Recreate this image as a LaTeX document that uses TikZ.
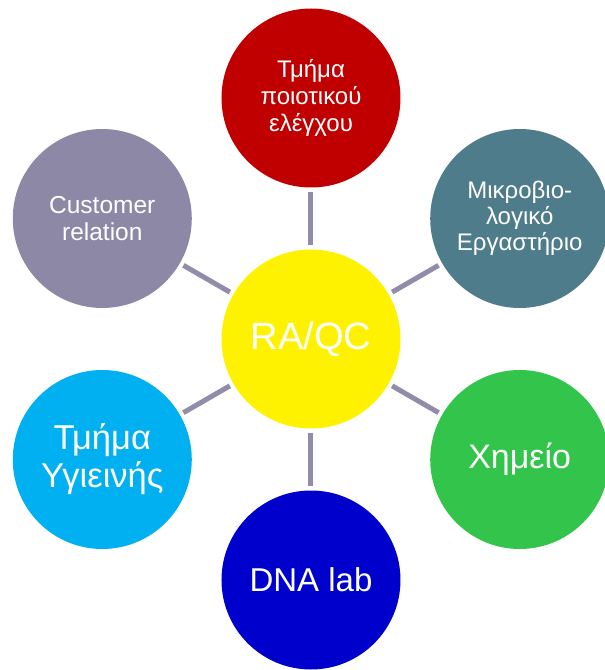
\documentclass[tikz,border=0pt]{standalone}
\usepackage{fontspec}
\setmainfont{Liberation Sans}
\usepackage{xcolor}
\usepackage{tikz}

\definecolor{qcred}{HTML}{C00000}
\definecolor{microteal}{HTML}{4E7C8B}
\definecolor{chemgreen}{HTML}{33C54B}
\definecolor{dnablue}{HTML}{0000CC}
\definecolor{hygcyan}{HTML}{00B0F0}
\definecolor{custgray}{HTML}{8C88A6}
\definecolor{spokegray}{HTML}{908CAA}

\begin{document}
\begin{tikzpicture}[x=1pt,y=1pt,
    unit/.style={circle, minimum size=179pt, inner sep=0pt, text=white, align=center, fill=#1},
    spoke/.style={line width=5pt, draw=spokegray, shorten <=4pt, shorten >=4pt}]
    \useasboundingbox (-311,-331) rectangle (294,339);

    \node[unit=yellow, font=\fontsize{38}{44}\selectfont] (hub) at (0,0) {RA/QC};
    \node[unit=qcred, font=\fontsize{24}{27}\selectfont] (qc) at (90:241) {Τμήμα\\ποιοτικού\\ελέγχου};
    \node[unit=microteal, font=\fontsize{24}{26}\selectfont] (micro) at (30:241) {Μικροβιο-\\λογικό\\Εργαστήριο};
    \node[unit=chemgreen, font=\fontsize{34}{40}\selectfont] (chem) at (-30:241) {Χημείο};
    \node[unit=dnablue, font=\fontsize{33}{40}\selectfont] (dna) at (-90:241) {DNA lab};
    \node[unit=hygcyan, font=\fontsize{34.5}{38}\selectfont] (hyg) at (210:241) {Τμήμα\\Υγιεινής};
    \node[unit=custgray, font=\fontsize{24.5}{27}\selectfont] (cust) at (150:241) {Customer\\relation};

    \foreach \n in {qc,micro,chem,dna,hyg,cust} \draw[spoke] (hub) -- (\n);
\end{tikzpicture}
\end{document}
